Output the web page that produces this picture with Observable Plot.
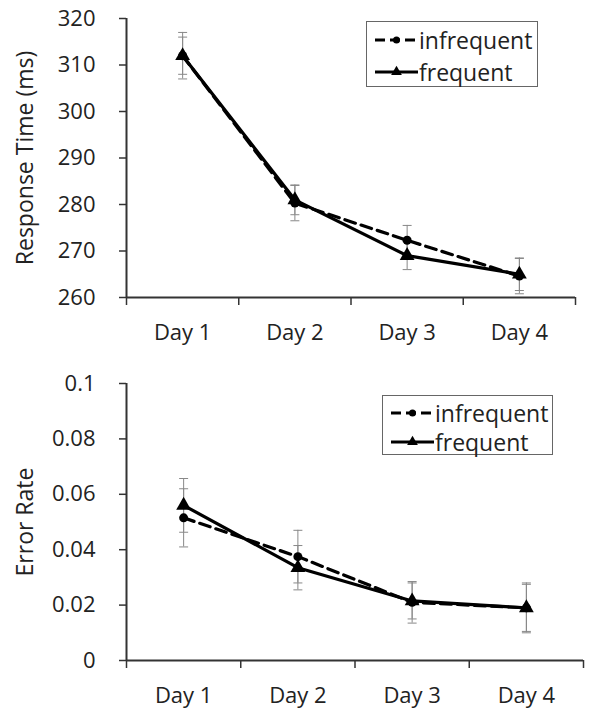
<!DOCTYPE html>
<html>
<head>
<meta charset="utf-8">
<script src="https://cdn.jsdelivr.net/npm/d3@7"></script>
<script src="https://cdn.jsdelivr.net/npm/@observablehq/plot@0.6"></script>
<style>
  body { margin: 0; background: #fff; }
  #wrap { position: relative; width: 595px; height: 719px; font-family: "Open Sans", sans-serif; color: #222; }
  #wrap svg { display: block; }
  .legend { position: absolute; background: #fff; border: 1.5px solid #666; box-sizing: border-box; font-size: 23px; line-height: 1; }
  .legend .row { position: absolute; display: flex; align-items: center; white-space: nowrap; }
  .legend .row svg { display: inline-block; margin-right: 1px; }
</style>
</head>
<body>
<div id="wrap"></div>
<script>
// ---- data ----
const days = ["Day 1", "Day 2", "Day 3", "Day 4"];
const seriesNames = ["infrequent", "frequent"];

const rtInfrequent    = [312, 280.3, 272.3, 264.6];
const rtInfrequentErr = [5, 3.8, 3.2, 3.8];
const rtFrequent      = [312, 281, 269, 265];
const rtFrequentErr   = [4, 3.2, 3, 3.5];
const rtTicks = [260, 270, 280, 290, 300, 310, 320];

const erInfrequent    = [0.0515, 0.0375, 0.021, 0.019];
const erInfrequentErr = [0.0105, 0.0095, 0.0075, 0.009];
const erFrequent      = [0.056, 0.0335, 0.0215, 0.019];
const erFrequentErr   = [0.0097, 0.008, 0.0065, 0.0085];
const erTicks = [0, 0.02, 0.04, 0.06, 0.08, 0.1];

// ---- helpers ----
const dayPos = days.map((d, i) => i + 0.5);      // band centres on a linear index scale
const dayBounds = d3.range(days.length + 1);      // category boundaries (Excel-style ticks)

function rows(vals, errs, name) {
  return vals.map((v, i) => ({x: dayPos[i], v, lo: v - errs[i], hi: v + errs[i], series: name}));
}
const capSymbol = { draw(ctx, size) { const w = Math.sqrt(size / Math.PI); ctx.moveTo(-w, 0); ctx.lineTo(w, 0); } };

function panel({infr, infrErr, freq, freqErr, ticks, domain, label, height, marginBottom, marginRight, tickFmt, labelDx}) {
  const a = rows(infr, infrErr, seriesNames[0]);
  const b = rows(freq, freqErr, seriesNames[1]);
  const both = a.concat(b);
  return Plot.plot({
    width: 595, height, marginLeft: 126, marginRight, marginTop: 18, marginBottom,
    style: {fontFamily: "'Open Sans', sans-serif", fontSize: "22px", color: "#222", background: "#fff"},
    x: {domain: [0, days.length]},
    y: {domain},
    marks: [
      // y axis
      Plot.axisY({ticks, tickSize: 7, tickPadding: 24, tickFormat: tickFmt, label: null, stroke: "#333", strokeWidth: 1.5}),
      Plot.text([label], {frameAnchor: "left", textAnchor: "middle", lineAnchor: "middle", rotate: -90, dx: labelDx, fontSize: 23, fill: "#222"}),
      // x axis: boundary ticks + centred labels
      Plot.axisX({ticks: dayBounds, tickSize: 8, tickFormat: () => "", label: null, stroke: "#333", strokeWidth: 1.5}),
      Plot.axisX({ticks: dayPos, tickSize: 0, tickPadding: 27, tickFormat: d => days[Math.round(d - 0.5)], label: null, fontSize: 22}),
      Plot.ruleX([0], {stroke: "#333", strokeWidth: 2}),
      Plot.ruleY([domain[0]], {stroke: "#333", strokeWidth: 2}),
      // error bars
      Plot.ruleX(both, {x: "x", y1: "lo", y2: "hi", stroke: "#888", strokeWidth: 1}),
      Plot.dot(both, {x: "x", y: "lo", symbol: capSymbol, r: 4.5, stroke: "#888", strokeWidth: 1, fill: "none"}),
      Plot.dot(both, {x: "x", y: "hi", symbol: capSymbol, r: 4.5, stroke: "#888", strokeWidth: 1, fill: "none"}),
      // lines
      Plot.line(a, {x: "x", y: "v", stroke: "#000", strokeWidth: 3.2, strokeDasharray: "11,6"}),
      Plot.line(b, {x: "x", y: "v", stroke: "#000", strokeWidth: 3.2}),
      Plot.dot(a, {x: "x", y: "v", r: 4.5, fill: "#000", stroke: "none"}),
      Plot.dot(b, {x: "x", y: "v", r: 5.5, symbol: "triangle", fill: "#000", stroke: "none"})
    ]
  });
}

const wrap = document.getElementById("wrap");
wrap.appendChild(panel({
  infr: rtInfrequent, infrErr: rtInfrequentErr, freq: rtFrequent, freqErr: rtFrequentErr,
  ticks: rtTicks, domain: [260, 320], label: "Response Time (ms)",
  height: 365, marginBottom: 68, marginRight: 20, tickFmt: d3.format("d"), labelDx: -101
}));
wrap.appendChild(panel({
  infr: erInfrequent, infrErr: erInfrequentErr, freq: erFrequent, freqErr: erFrequentErr,
  ticks: erTicks, domain: [0, 0.1], label: "Error Rate",
  height: 354, marginBottom: 59, marginRight: 12, tickFmt: d => (d === 0 ? "0" : String(+d.toFixed(2))), labelDx: -101
}));

// ---- legends ----
function legend(left, top, w, h, rowYs, sampleW) {
  const div = document.createElement("div");
  div.className = "legend";
  Object.assign(div.style, {left: left + "px", top: top + "px", width: w + "px", height: h + "px"});
  seriesNames.forEach((name, i) => {
    const row = document.createElement("div");
    row.className = "row";
    Object.assign(row.style, {left: "8px", top: (rowYs[i] - top - 13) + "px", height: "26px"});
    const s = d3.create("svg").attr("width", sampleW).attr("height", 14);
    s.append("line").attr("x1", 0).attr("x2", sampleW).attr("y1", 7).attr("y2", 7)
      .attr("stroke", "#000").attr("stroke-width", 3).attr("stroke-dasharray", i === 0 ? "10,5" : null);
    if (i === 0) s.append("circle").attr("cx", sampleW / 2).attr("cy", 7).attr("r", 3.5).attr("fill", "#000");
    else s.append("path").attr("d", d3.symbol(d3.symbolTriangle, 50)()).attr("transform", `translate(${sampleW / 2},7)`).attr("fill", "#000");
    row.appendChild(s.node());
    const t = document.createElement("span");
    t.textContent = name;
    row.appendChild(t);
    div.appendChild(row);
  });
  wrap.appendChild(div);
}
legend(366, 21, 172, 66, [39, 71], 43);
legend(382, 395, 171, 60, [412, 441], 43);
</script>
</body>
</html>
